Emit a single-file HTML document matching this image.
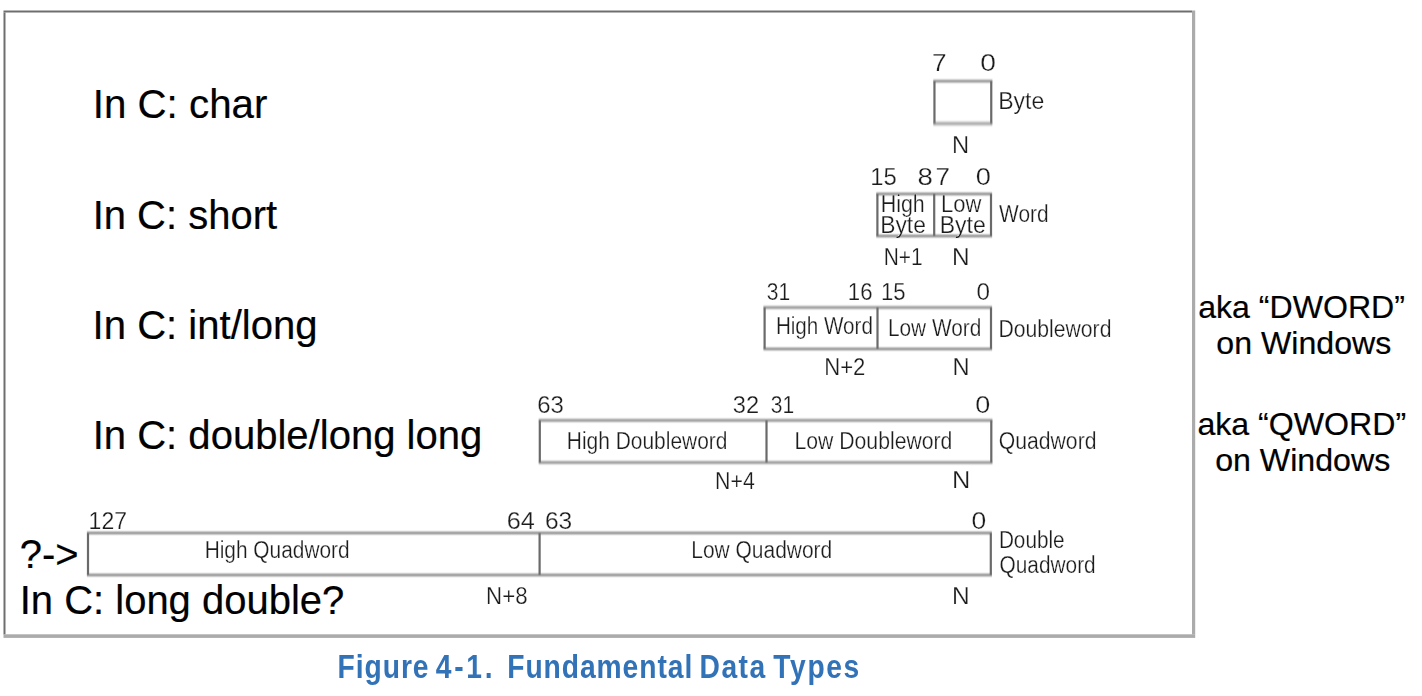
<!DOCTYPE html>
<html><head><meta charset="utf-8"><style>
html,body{margin:0;padding:0;background:#fff;width:1422px;height:696px;overflow:hidden}
svg{display:block}
text{font-family:"Liberation Sans",sans-serif;white-space:pre}
.lb{stroke:#fff;stroke-width:0.25px}
.bg{stroke:#000;stroke-width:0.2px}
.ak{stroke:#000;stroke-width:0.2px}
</style></head><body>
<svg width="1422" height="696" viewBox="0 0 1422 696">
<defs>
<filter id="soft" x="-5%" y="-5%" width="110%" height="110%"><feGaussianBlur stdDeviation="0.5"/></filter>
<filter id="soft3" x="-5%" y="-5%" width="110%" height="110%"><feGaussianBlur stdDeviation="0.45 0.8"/></filter>
<filter id="soft2" x="-5%" y="-5%" width="110%" height="110%"><feGaussianBlur stdDeviation="0.4"/></filter>
</defs>
<rect width="1422" height="696" fill="#fff"/>
<g filter="url(#soft)">
<rect x="3.5" y="10.5" width="1188.5" height="2" fill="#6e6e6e"/>
<rect x="3.5" y="12.5" width="2" height="622" fill="#6e6e6e"/>
<rect x="1192" y="10.5" width="3.2" height="624" fill="#ababab"/>
<rect x="3.5" y="634.3" width="1191.7" height="3.6" fill="#ababab"/>
</g>
<g filter="url(#soft3)">
<rect x="933.35" y="80.3" width="59.0" height="1.8" fill="#5a5a5a"/>
<rect x="933.35" y="121.89999999999999" width="59.0" height="3.4" fill="#a8a8a8"/>
<rect x="933.35" y="81.2" width="2.2" height="42.39999999999999" fill="#6a6a6a"/>
<rect x="990.15" y="81.2" width="2.2" height="42.39999999999999" fill="#6a6a6a"/>
<rect x="876.3" y="193.0" width="115.80000000000007" height="1.8" fill="#5a5a5a"/>
<rect x="876.3" y="235.1" width="115.80000000000007" height="1.8" fill="#5a5a5a"/>
<rect x="876.3" y="193.9" width="2.2" height="42.099999999999994" fill="#6a6a6a"/>
<rect x="989.9" y="193.9" width="2.2" height="42.099999999999994" fill="#6a6a6a"/>
<rect x="933.1" y="193.9" width="2.2" height="42.099999999999994" fill="#6a6a6a"/>
<rect x="763.5" y="306.6" width="228.60000000000002" height="1.8" fill="#5a5a5a"/>
<rect x="763.5" y="348.0" width="228.60000000000002" height="1.8" fill="#5a5a5a"/>
<rect x="763.5" y="307.5" width="2.2" height="41.39999999999998" fill="#6a6a6a"/>
<rect x="989.9" y="307.5" width="2.2" height="41.39999999999998" fill="#6a6a6a"/>
<rect x="876.4" y="307.5" width="2.2" height="41.39999999999998" fill="#6a6a6a"/>
<rect x="538.6999999999999" y="419.5" width="453.70000000000005" height="1.8" fill="#5a5a5a"/>
<rect x="538.6999999999999" y="461.6" width="453.70000000000005" height="1.8" fill="#5a5a5a"/>
<rect x="538.6999999999999" y="420.4" width="2.2" height="42.10000000000002" fill="#6a6a6a"/>
<rect x="990.1999999999999" y="420.4" width="2.2" height="42.10000000000002" fill="#6a6a6a"/>
<rect x="765.4" y="420.4" width="2.2" height="42.10000000000002" fill="#6a6a6a"/>
<rect x="86.9" y="532.1" width="905.0" height="1.8" fill="#5a5a5a"/>
<rect x="86.9" y="574.1" width="905.0" height="1.8" fill="#5a5a5a"/>
<rect x="86.9" y="533" width="2.2" height="42" fill="#6a6a6a"/>
<rect x="989.6999999999999" y="533" width="2.2" height="42" fill="#6a6a6a"/>
<rect x="538.5" y="533" width="2.2" height="42" fill="#6a6a6a"/>
</g>
<g filter="url(#soft)">
<text id="t15" x="932.10" y="71.2" font-size="23.5" fill="#1a1a1a" textLength="14.57" lengthAdjust="spacingAndGlyphs" class="lb">7</text>
<text id="t16" x="980.20" y="71.2" font-size="23.5" fill="#1a1a1a" textLength="15.69" lengthAdjust="spacingAndGlyphs" class="lb">0</text>
<text id="t17" x="998.17" y="109.2" font-size="23.5" fill="#1a1a1a" textLength="46.12" lengthAdjust="spacingAndGlyphs" class="lb">Byte</text>
<text id="t18" x="951.94" y="152.9" font-size="23.5" fill="#1a1a1a" textLength="17.14" lengthAdjust="spacingAndGlyphs" class="lb">N</text>
<text id="t19" x="870.33" y="184.5" font-size="23.5" fill="#1a1a1a" textLength="26.49" lengthAdjust="spacingAndGlyphs" class="lb">15</text>
<text id="t20" x="917.59" y="184.5" font-size="23.5" fill="#1a1a1a" textLength="15.38" lengthAdjust="spacingAndGlyphs" class="lb">8</text>
<text id="t21" x="935.44" y="184.5" font-size="23.5" fill="#1a1a1a" textLength="14.48" lengthAdjust="spacingAndGlyphs" class="lb">7</text>
<text id="t22" x="975.66" y="184.5" font-size="23.5" fill="#1a1a1a" textLength="15.14" lengthAdjust="spacingAndGlyphs" class="lb">0</text>
<text id="t23" x="880.72" y="212" font-size="23.5" fill="#1a1a1a" textLength="44.01" lengthAdjust="spacingAndGlyphs" class="lb">High</text>
<text id="t24" x="880.19" y="232.5" font-size="23.5" fill="#1a1a1a" textLength="45.68" lengthAdjust="spacingAndGlyphs" class="lb">Byte</text>
<text id="t25" x="941.04" y="212" font-size="23.5" fill="#1a1a1a" textLength="40.37" lengthAdjust="spacingAndGlyphs" class="lb">Low</text>
<text id="t26" x="939.66" y="232.5" font-size="23.5" fill="#1a1a1a" textLength="46.11" lengthAdjust="spacingAndGlyphs" class="lb">Byte</text>
<text id="t27" x="999.11" y="222.4" font-size="23.5" fill="#1a1a1a" textLength="49.60" lengthAdjust="spacingAndGlyphs" class="lb">Word</text>
<text id="t28" x="883.63" y="264.5" font-size="23.5" fill="#1a1a1a" textLength="38.92" lengthAdjust="spacingAndGlyphs" class="lb">N+1</text>
<text id="t29" x="951.97" y="264.5" font-size="23.5" fill="#1a1a1a" textLength="17.60" lengthAdjust="spacingAndGlyphs" class="lb">N</text>
<text id="t30" x="766.70" y="300" font-size="23.5" fill="#1a1a1a" textLength="23.42" lengthAdjust="spacingAndGlyphs" class="lb">31</text>
<text id="t31" x="847.81" y="300" font-size="23.5" fill="#1a1a1a" textLength="24.68" lengthAdjust="spacingAndGlyphs" class="lb">16</text>
<text id="t32" x="881.09" y="300" font-size="23.5" fill="#1a1a1a" textLength="24.59" lengthAdjust="spacingAndGlyphs" class="lb">15</text>
<text id="t33" x="976.48" y="300" font-size="23.5" fill="#1a1a1a" textLength="13.49" lengthAdjust="spacingAndGlyphs" class="lb">0</text>
<text id="t34" x="775.89" y="333.5" font-size="23.5" fill="#1a1a1a" textLength="97.06" lengthAdjust="spacingAndGlyphs" class="lb">High Word</text>
<text id="t35" x="887.88" y="335.8" font-size="23.5" fill="#1a1a1a" textLength="93.44" lengthAdjust="spacingAndGlyphs" class="lb">Low Word</text>
<text id="t36" x="998.38" y="337.4" font-size="23.5" fill="#1a1a1a" textLength="113.06" lengthAdjust="spacingAndGlyphs" class="lb">Doubleword</text>
<text id="t37" x="824.21" y="375.4" font-size="23.5" fill="#1a1a1a" textLength="41.21" lengthAdjust="spacingAndGlyphs" class="lb">N+2</text>
<text id="t38" x="952.48" y="375.4" font-size="23.5" fill="#1a1a1a" textLength="17.09" lengthAdjust="spacingAndGlyphs" class="lb">N</text>
<text id="t39" x="537.16" y="413.2" font-size="23.5" fill="#1a1a1a" textLength="26.68" lengthAdjust="spacingAndGlyphs" class="lb">63</text>
<text id="t40" x="732.86" y="413.2" font-size="23.5" fill="#1a1a1a" textLength="26.30" lengthAdjust="spacingAndGlyphs" class="lb">32</text>
<text id="t41" x="770.70" y="413.2" font-size="23.5" fill="#1a1a1a" textLength="23.42" lengthAdjust="spacingAndGlyphs" class="lb">31</text>
<text id="t42" x="975.18" y="413.4" font-size="23.5" fill="#1a1a1a" textLength="15.02" lengthAdjust="spacingAndGlyphs" class="lb">0</text>
<text id="t43" x="566.84" y="448.9" font-size="23.5" fill="#1a1a1a" textLength="160.59" lengthAdjust="spacingAndGlyphs" class="lb">High Doubleword</text>
<text id="t44" x="794.51" y="449" font-size="23.5" fill="#1a1a1a" textLength="157.88" lengthAdjust="spacingAndGlyphs" class="lb">Low Doubleword</text>
<text id="t45" x="998.85" y="449" font-size="23.5" fill="#1a1a1a" textLength="97.61" lengthAdjust="spacingAndGlyphs" class="lb">Quadword</text>
<text id="t46" x="715.12" y="488.7" font-size="23.5" fill="#1a1a1a" textLength="39.69" lengthAdjust="spacingAndGlyphs" class="lb">N+4</text>
<text id="t47" x="951.92" y="488.4" font-size="23.5" fill="#1a1a1a" textLength="18.30" lengthAdjust="spacingAndGlyphs" class="lb">N</text>
<text id="t48" x="88.59" y="528.6" font-size="23.5" fill="#1a1a1a" textLength="38.47" lengthAdjust="spacingAndGlyphs" class="lb">127</text>
<text id="t49" x="506.74" y="528.6" font-size="23.5" fill="#1a1a1a" textLength="28.14" lengthAdjust="spacingAndGlyphs" class="lb">64</text>
<text id="t50" x="544.91" y="528.6" font-size="23.5" fill="#1a1a1a" textLength="27.31" lengthAdjust="spacingAndGlyphs" class="lb">63</text>
<text id="t51" x="971.58" y="528.7" font-size="23.5" fill="#1a1a1a" textLength="14.71" lengthAdjust="spacingAndGlyphs" class="lb">0</text>
<text id="t52" x="204.66" y="557.7" font-size="23.5" fill="#1a1a1a" textLength="144.98" lengthAdjust="spacingAndGlyphs" class="lb">High Quadword</text>
<text id="t53" x="691.26" y="557.7" font-size="23.5" fill="#1a1a1a" textLength="141.01" lengthAdjust="spacingAndGlyphs" class="lb">Low Quadword</text>
<text id="t54" x="998.88" y="547.7" font-size="23.5" fill="#1a1a1a" textLength="65.77" lengthAdjust="spacingAndGlyphs" class="lb">Double</text>
<text id="t55" x="999.57" y="573" font-size="23.5" fill="#1a1a1a" textLength="96.12" lengthAdjust="spacingAndGlyphs" class="lb">Quadword</text>
<text id="t56" x="486.05" y="603.7" font-size="23.5" fill="#1a1a1a" textLength="41.48" lengthAdjust="spacingAndGlyphs" class="lb">N+8</text>
<text id="t57" x="951.93" y="604.2" font-size="23.5" fill="#1a1a1a" textLength="17.67" lengthAdjust="spacingAndGlyphs" class="lb">N</text>
</g>
<g filter="url(#soft2)">
<text id="t10" transform="translate(337.58,678.2) scale(0.83,1)" x="0" y="0" font-size="34" fill="#3372b7" textLength="109.57" lengthAdjust="spacing" font-weight="bold">Figure</text>
<text id="t11" transform="translate(435.74,678.2) scale(0.83,1)" x="0" y="0" font-size="34" fill="#3372b7" textLength="68.53" lengthAdjust="spacing" font-weight="bold">4-1.</text>
<text id="t12" transform="translate(507.20,678.2) scale(0.83,1)" x="0" y="0" font-size="34" fill="#3372b7" textLength="222.95" lengthAdjust="spacing" font-weight="bold">Fundamental</text>
<text id="t13" transform="translate(699.50,678.2) scale(0.83,1)" x="0" y="0" font-size="34" fill="#3372b7" textLength="79.18" lengthAdjust="spacing" font-weight="bold">Data</text>
<text id="t14" transform="translate(773.37,678.2) scale(0.83,1)" x="0" y="0" font-size="34" fill="#3372b7" textLength="103.54" lengthAdjust="spacing" font-weight="bold">Types</text>
</g>
<text id="t0" x="92.69" y="118" font-size="40.6" fill="#000" textLength="174.74" lengthAdjust="spacingAndGlyphs" class="bg">In C: char</text>
<text id="t1" x="92.63" y="228.8" font-size="40.6" fill="#000" textLength="184.49" lengthAdjust="spacingAndGlyphs" class="bg">In C: short</text>
<text id="t2" x="92.62" y="338.8" font-size="40.6" fill="#000" textLength="224.89" lengthAdjust="spacingAndGlyphs" class="bg">In C: int/long</text>
<text id="t3" x="92.68" y="448.8" font-size="40.6" fill="#000" textLength="389.63" lengthAdjust="spacingAndGlyphs" class="bg">In C: double/long long</text>
<text id="t4" x="19.73" y="568" font-size="40.6" fill="#000" textLength="58.84" lengthAdjust="spacingAndGlyphs" class="bg">?-&gt;</text>
<text id="t5" x="19.66" y="613.8" font-size="40.6" fill="#000" textLength="324.70" lengthAdjust="spacingAndGlyphs" class="bg">In C: long double?</text>
<text id="t6" x="1198.22" y="317.6" font-size="32" fill="#000" textLength="206.76" lengthAdjust="spacingAndGlyphs" class="ak">aka “DWORD”</text>
<text id="t7" x="1216.29" y="353.5" font-size="32" fill="#000" textLength="174.98" lengthAdjust="spacingAndGlyphs" class="ak">on Windows</text>
<text id="t8" x="1197.42" y="434.6" font-size="32" fill="#000" textLength="208.78" lengthAdjust="spacingAndGlyphs" class="ak">aka “QWORD”</text>
<text id="t9" x="1215.18" y="470.8" font-size="32" fill="#000" textLength="175.08" lengthAdjust="spacingAndGlyphs" class="ak">on Windows</text>
</svg>
</body></html>
